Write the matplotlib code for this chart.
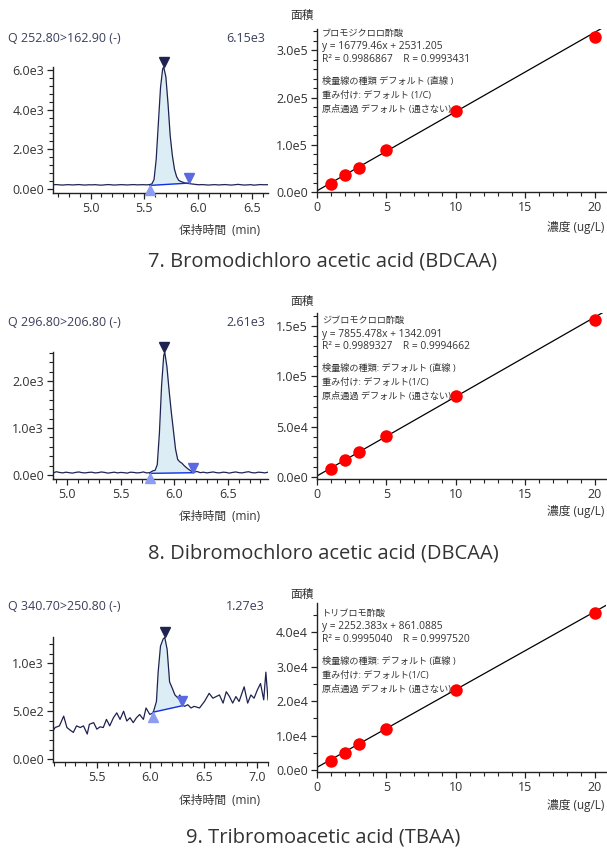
import numpy as np
import matplotlib
matplotlib.use("Agg")
import matplotlib.pyplot as plt
from matplotlib.ticker import MultipleLocator, FuncFormatter
from matplotlib.transforms import offset_copy

plt.rcParams['font.family'] = ['Open Sans', 'Noto Sans CJK JP', 'DejaVu Sans']

W, H = 607, 852

########################### data ####################################
titles = ["7. Bromodichloro acetic acid (BDCAA)",
          "8. Dibromochloro acetic acid (DBCAA)",
          "9. Tribromoacetic acid (TBAA)"]
transitions = ["Q 252.80>162.90 (-)", "Q 296.80>206.80 (-)", "Q 340.70>250.80 (-)"]
max_labels = ["6.15e3", "2.61e3", "1.27e3"]
compounds = ["ブロモジクロロ酢酸", "ジブロモクロロ酢酸", "トリブロモ酢酸"]
equations = ["y = 16779.46x + 2531.205", "y = 7855.478x + 1342.091", "y = 2252.383x + 861.0885"]
r_lines = ["R² = 0.9986867    R = 0.9993431",
           "R² = 0.9989327    R = 0.9994662",
           "R² = 0.9995040    R = 0.9997520"]
curve_type = ["検量線の種類 デフォルト (直線 )", "検量線の種類: デフォルト (直線 )", "検量線の種類: デフォルト (直線 )"]
weighting = ["重み付け: デフォルト (1/C)", "重み付け: デフォルト(1/C)", "重み付け: デフォルト(1/C)"]
origin = ["原点通過 デフォルト (通さない)"] * 3

# chromatogram 1
rt1 = [4.65, 4.68, 4.71, 4.74, 4.77, 4.80, 4.83, 4.86, 4.89, 4.92, 4.95, 4.98, 5.01, 5.04, 5.07, 5.10,
       5.13, 5.16, 5.19, 5.22, 5.25, 5.28, 5.31, 5.34, 5.37, 5.40, 5.43, 5.46, 5.49, 5.52, 5.55,
       5.57, 5.59, 5.61, 5.63, 5.65, 5.67, 5.68,
       5.70, 5.72, 5.74, 5.76, 5.78, 5.80, 5.82, 5.84, 5.86, 5.88, 5.90, 5.92,
       5.95, 5.98, 6.01, 6.04, 6.07, 6.10, 6.13, 6.16, 6.19, 6.22, 6.25, 6.28, 6.31, 6.34, 6.37, 6.40,
       6.43, 6.46, 6.49, 6.52, 6.55, 6.58, 6.61, 6.65]
int1 = [215, 225, 210, 200, 215, 220, 205, 215, 225, 210, 200, 215, 210, 220, 205, 195,
        210, 225, 215, 200, 210, 220, 215, 205, 215, 225, 210, 215, 220, 210, 225,
        260, 480, 1500, 3300, 5100, 6050, 6150,
        5650, 4300, 2700, 1700, 1000, 620, 430, 380, 340, 300, 285, 270,
        250, 230, 215, 225, 210, 200, 215, 220, 205, 215, 225, 210, 200, 215, 235, 215,
        200, 210, 220, 195, 210, 225, 215, 220]
peak1 = {"start": (5.551, 183), "apex": (5.68, 6150), "end": (5.916, 300)}

# chromatogram 2
rt2 = [4.87, 4.90, 4.93, 4.96, 4.99, 5.02, 5.05, 5.08, 5.11, 5.14, 5.17, 5.20, 5.23, 5.26, 5.29,
       5.32, 5.35, 5.38, 5.41, 5.44, 5.47, 5.50, 5.53, 5.56, 5.59, 5.62, 5.65, 5.68, 5.71, 5.74,
       5.77, 5.80, 5.82, 5.84, 5.86, 5.88, 5.90, 5.91, 5.93, 5.95, 5.97, 5.99, 6.01, 6.03, 6.05,
       6.07, 6.09, 6.12, 6.15, 6.18,
       6.21, 6.24, 6.27, 6.30, 6.33, 6.36, 6.39, 6.42, 6.45, 6.48, 6.51, 6.54, 6.57, 6.60, 6.63,
       6.66, 6.69, 6.72, 6.75, 6.78, 6.81, 6.84, 6.87]
int2 = [40, 70, 55, 45, 60, 50, 40, 55, 65, 50, 45, 55, 60, 45, 50,
        65, 55, 40, 50, 60, 45, 55, 50, 40, 60, 55, 45, 50, 65, 45,
        50, 90, 100, 220, 900, 1900, 2550, 2610, 2300, 1800, 1350, 950, 550, 330, 280,
        250, 200, 140, 90, 60,
        75, 50, 60, 45, 55, 65, 50, 45, 60, 55, 40, 55, 65, 50, 45,
        60, 70, 50, 45, 60, 55, 45, 60]
peak2 = {"start": (5.77, 35), "apex": (5.906, 2610), "end": (6.175, 49)}

# chromatogram 3
rt3 = [5.09, 5.11, 5.15, 5.19, 5.22, 5.25, 5.28, 5.31, 5.345, 5.375, 5.41, 5.43, 5.47, 5.50, 5.53,
       5.56, 5.59, 5.62, 5.655, 5.686, 5.717, 5.75, 5.78, 5.81, 5.84, 5.87, 5.90, 5.935, 5.96, 5.995,
       6.026, 6.057, 6.073, 6.095, 6.12, 6.135, 6.157, 6.18, 6.206, 6.23, 6.26, 6.276, 6.30, 6.32, 6.35,
       6.38, 6.41, 6.46, 6.506, 6.55, 6.585, 6.615, 6.646, 6.68, 6.71, 6.74, 6.77, 6.80, 6.83, 6.877,
       6.91, 6.94, 6.97, 7.00, 7.03, 7.06, 7.08, 7.10]
int3 = [296, 330, 347, 449, 330, 303, 279, 347, 330, 347, 262, 364, 381, 313, 337,
        330, 415, 347, 432, 483, 415, 500, 398, 432, 381, 432, 466, 415, 534, 466,
        483, 602, 908, 1180, 1255, 1270, 1146, 806, 738, 670, 636, 670, 568, 551, 568,
        534, 551, 534, 602, 687, 636, 653, 670, 585, 704, 653, 585, 653, 602, 755,
        585, 670, 636, 721, 789, 619, 908, 619]
peak3 = {"start": (6.026, 490), "apex": (6.135, 1270), "end": (6.30, 558)}

# calibration
conc = [1, 2, 3, 5, 10, 20]
area1 = [16800, 35000, 51700, 88800, 171300, 328700]
area2 = [7900, 16850, 25400, 41000, 80900, 155600]
area3 = [2710, 5130, 7550, 12000, 23250, 45400]
slopes = [16779.46, 7855.478, 2252.383]
intercepts = [2531.205, 1342.091, 861.0885]

chroms = [(rt1, int1, peak1), (rt2, int2, peak2), (rt3, int3, peak3)]
areas = [area1, area2, area3]

########################### layout ####################################
chrom_box = [(67, 193), (352, 479), (637, 762)]      # top, bottom pixel rows
chrom_xlim = [(4.65, 6.65), (4.87, 6.87), (5.09, 7.10)]
chrom_ylim = [(-200, 6150), (-85, 2620), (-30, 1275)]
chrom_ymajor = [2000, 1000, 500]
chrom_yminor = [400, 200, 100]
cal_box = [(29, 192), (313, 479), (603, 772)]
cal_ylim = [(0, 3.45e5), (-1650, 1.625e5), (-480, 4.84e4)]
cal_ymajor = [1e5, 5e4, 1e4]
cal_yminor = [2e4, 1e4, 5e3]
header_y = [38, 323, 606]
xlabel_y = [230, 516, 800]
cal_xlabel_y = [228, 512, 806]
area_y = [15, 301, 594]
note_y = [33, 320, 613]
title_y = [262, 553, 838]

TXT = '#333333'
NAVY = '#1e2350'
FS = 9


def px(x, y):
    return x / W, 1 - y / H


def sci(v, pos):
    if v == 0:
        return "0.0e0"
    e = int(np.floor(np.log10(abs(v))))
    return "{:.1f}e{}".format(v / 10 ** e, e)


def style(ax):
    ax.spines['right'].set_visible(False)
    ax.spines['top'].set_visible(False)
    for s in ['left', 'bottom']:
        ax.spines[s].set_color('#222222')
        ax.spines[s].set_linewidth(1.0)
    ax.tick_params(which='major', length=4, width=0.9, colors='#222222', labelsize=FS, labelcolor=TXT, pad=2.5)
    ax.tick_params(which='minor', length=3, width=0.8, colors='#222222')
    ax.yaxis.set_major_formatter(FuncFormatter(sci))


fig = plt.figure(figsize=(W / 100, H / 100), dpi=100)

for i in range(3):
    rt, inten, pk = chroms[i]
    top, bot = chrom_box[i]
    ax = fig.add_axes([53 / W, 1 - bot / H, (268 - 53) / W, (bot - top) / H])
    style(ax)
    rt = np.array(rt)
    inten = np.array(inten)
    (xs, ys), (xe, ye) = pk["start"], pk["end"]
    m = (rt >= xs) & (rt <= xe)
    xx = np.concatenate([[xs], rt[m], [xe]])
    yy = np.concatenate([[ys], inten[m], [ye]])
    base = np.interp(xx, [xs, xe], [ys, ye])
    ax.fill_between(xx, base, np.maximum(yy, base), color='#dcedf5', lw=0, zorder=1)
    ax.plot(rt, inten, color=NAVY, lw=0.9, zorder=3)
    ax.plot([xs, xe], [ys, ye], color='#1030e0', lw=1.0, zorder=4)
    up = offset_copy(ax.transData, fig=fig, x=0, y=5, units='dots')
    down = offset_copy(ax.transData, fig=fig, x=0, y=-5, units='dots')
    ax.plot(*pk["apex"], marker='v', color=NAVY, ms=6.5, transform=up, clip_on=False, zorder=5)
    ax.plot(xs, ys, marker='^', color='#8c9cf0', ms=7, transform=down, clip_on=False, zorder=5)
    ax.plot(xe, ye, marker='v', color='#5a6ae0', ms=7, transform=up, clip_on=False, zorder=5)
    ax.set_xlim(*chrom_xlim[i])
    ax.set_ylim(*chrom_ylim[i])
    ax.xaxis.set_major_locator(MultipleLocator(0.5))
    ax.xaxis.set_minor_locator(MultipleLocator(0.1))
    ax.xaxis.set_major_formatter(FuncFormatter(lambda v, p: "{:.1f}".format(v)))
    ax.yaxis.set_major_locator(MultipleLocator(chrom_ymajor[i]))
    ax.yaxis.set_minor_locator(MultipleLocator(chrom_yminor[i]))

    fig.text(*px(8, header_y[i]), transitions[i], fontsize=FS, color='#3a3f5c', va='center', ha='left')
    fig.text(*px(265, header_y[i]), max_labels[i], fontsize=FS, color='#3a3f5c', va='center', ha='right')
    fig.text(*px(260, xlabel_y[i]), "保持時間  (min)", fontsize=8.5, color=TXT, va='center', ha='right')

    # calibration panel
    top, bot = cal_box[i]
    ax = fig.add_axes([317 / W, 1 - bot / H, (606 - 317) / W, (bot - top) / H])
    style(ax)
    ax.set_xlim(0, 20.8)
    ax.set_ylim(*cal_ylim[i])
    xl = np.array([0, 20.8])
    ax.plot(xl, slopes[i] * xl + intercepts[i], color='black', lw=0.9, zorder=2)
    ax.plot(conc, areas[i], 'o', color='#ff0000', ms=9, mec='none', zorder=3, clip_on=False)
    ax.xaxis.set_major_locator(MultipleLocator(5))
    ax.xaxis.set_minor_locator(MultipleLocator(1))
    ax.yaxis.set_major_locator(MultipleLocator(cal_ymajor[i]))
    ax.yaxis.set_minor_locator(MultipleLocator(cal_yminor[i]))

    fig.text(*px(290, area_y[i]), "面積", fontsize=8.5, color=TXT, va='center', ha='left')
    fig.text(*px(604, cal_xlabel_y[i]), "濃度 (ug/L)", fontsize=8.5, color=TXT, va='center', ha='right')
    notes = [compounds[i], equations[i], r_lines[i], curve_type[i], weighting[i], origin[i]]
    sizes = [6.6, 7.4, 7.4, 6.6, 6.6, 6.6]
    for line, dy, fs in zip(notes, [0, 14, 27, 48, 62, 76], sizes):
        fig.text(*px(322, note_y[i] + dy), line, fontsize=fs, color=TXT, va='center', ha='left')

    fig.text(*px(323, title_y[i]), titles[i], fontsize=14.5, color='#333333', va='center', ha='center')

fig.savefig("out.png", dpi=100)
